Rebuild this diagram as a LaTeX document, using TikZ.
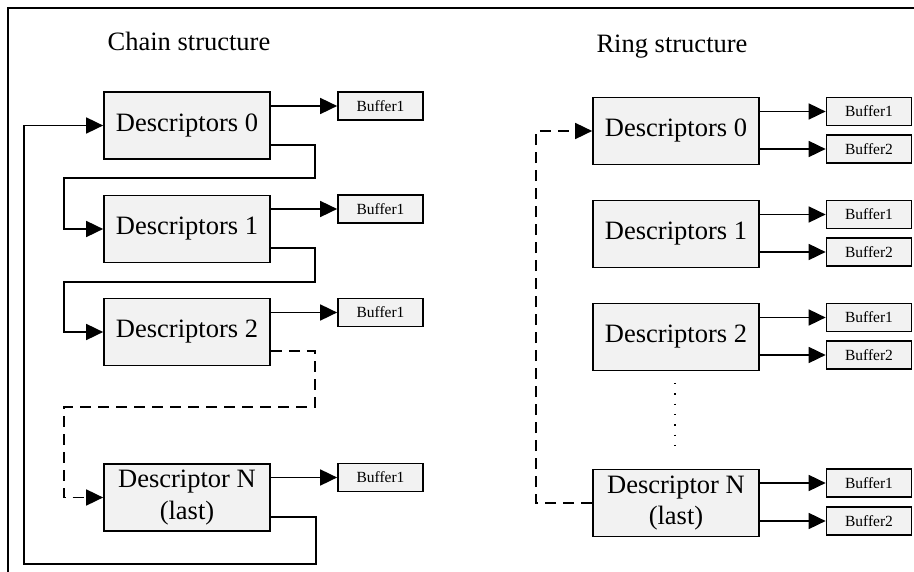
\documentclass[tikz,border=0pt]{standalone}
\usepackage{fontspec}
\setmainfont{Liberation Serif}
\usetikzlibrary{arrows.meta}
\definecolor{boxfill}{RGB}{242,242,242}
\tikzset{
  desc/.style={draw=black, line width=1.7pt, fill=boxfill, minimum width=166pt, minimum height=67pt, inner sep=0pt, align=center, font=\fontsize{26.5}{31.5}\selectfont},
  buf/.style={draw=black, line width=1.7pt, fill=boxfill, minimum width=85pt, minimum height=28pt, inner sep=0pt, font=\fontsize{15.5}{18}\selectfont},
  title/.style={font=\fontsize{26.5}{31.5}\selectfont, inner sep=0pt, anchor=base},
  conn/.style={line width=1.7pt},
  arr/.style={conn, -{Triangle[length=17pt,width=16pt]}},
  dsh/.style={dash pattern=on 11pt off 7pt},
}
\begin{document}
\begin{tikzpicture}[x=1pt,y=-1pt]
\useasboundingbox (0,0) rectangle (914,572);
% frame
\draw[conn] (8,572) -- (8,8) -- (914,8);
% titles
\node[title] (tchain) at (189,51) {Chain structure};
\node[title] (tring) at (672,53) {Ring structure};
% chain boxes
\node[desc] (c0) at (187,125.5) {Descriptors 0};
\node[desc] (c1) at (187,229) {Descriptors 1};
\node[desc] (c2) at (187,332) {Descriptors 2};
\node[desc] (cN) at (187,497.5) {Descriptor N\\(last)};
\node[buf] (cb0) at (380.5,106) {Buffer1};
\node[buf] (cb1) at (380.5,209) {Buffer1};
\node[buf] (cb2) at (380.5,312.5) {Buffer1};
\node[buf] (cbN) at (380.5,477.5) {Buffer1};
\foreach \d in {0,1,2,N}{
  \draw[arr] (c\d.east |- cb\d.west) -- (cb\d.west);
}
% chain links
\coordinate (e0) at ([yshift=15pt]c0.south east);
\coordinate (e1) at ([yshift=15pt]c1.south east);
\coordinate (e2) at ([yshift=15pt]c2.south east);
\coordinate (eN) at ([yshift=15pt]cN.south east);
\draw[arr] (e0) -| (315,178) -| (64,229) -- (c1.west);
\draw[arr] (e1) -| (315,282) -| (64,332) -- (c2.west);
\draw[arr, dsh] (e2) -| (315,407) -| (64,497.5) -- (cN.west);
\draw[arr] (eN) -| (316,564) -| (24,125.5) -- (c0.west);
% ring boxes
\node[desc] (r0) at (676,131) {Descriptors 0};
\node[desc] (r1) at (676,234) {Descriptors 1};
\node[desc] (r2) at (676,337) {Descriptors 2};
\node[desc] (rN) at (676,503) {Descriptor N\\(last)};
\node[buf] (ra0) at (869,111.5) {Buffer1};
\node[buf] (rb0) at (869,149) {Buffer2};
\node[buf] (ra1) at (869,214.5) {Buffer1};
\node[buf] (rb1) at (869,252) {Buffer2};
\node[buf] (ra2) at (869,317.5) {Buffer1};
\node[buf] (rb2) at (869,355) {Buffer2};
\node[buf] (raN) at (869,483) {Buffer1};
\node[buf] (rbN) at (869,521) {Buffer2};
\foreach \d in {0,1,2,N}{
  \draw[arr] (r\d.east |- ra\d.west) -- (ra\d.west);
  \draw[arr] (r\d.east |- rb\d.west) -- (rb\d.west);
}
% ring link
\draw[arr, dsh] (rN.west) -| (536,131) -- (r0.west);
% dots
\coordinate (dtop) at (675,383);
\coordinate (dbot) at (675,447);
\draw[line width=1.3pt, dash pattern=on 1.3pt off 9pt] (dtop) -- (dbot);
\end{tikzpicture}
\end{document}
